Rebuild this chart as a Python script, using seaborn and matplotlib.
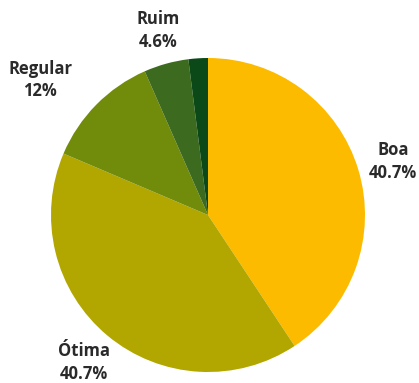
import matplotlib
matplotlib.use("Agg")
import matplotlib.pyplot as plt
import seaborn as sns

# Avaliação: categorias e percentuais
categorias = ["Boa", "Ótima", "Regular", "Ruim", "Péssima"]
percentuais = [40.7, 40.7, 12.0, 4.6, 2.0]
rotulos = ["40.7%", "40.7%", "12%", "4.6%", ""]
cores = ["#FDBB00", "#B2A700", "#718B0B", "#3C6A1E", "#0B4A18"]

# posição dos rótulos (coordenadas do eixo da pizza)
pos_rotulos = {
    "Boa": (1.18, 0.34),
    "Ótima": (-0.79, -0.94),
    "Regular": (-1.07, 0.86),
    "Ruim": (-0.32, 1.175),
}

sns.set_theme(style="white")
plt.rcParams["font.family"] = ["Open Sans", "DejaVu Sans"]

fig = plt.figure(figsize=(4.19, 3.83), dpi=100)
cx, cy, r = 208 / 419, 1 - 215 / 383, 157
w, h = r / 419, r / 383
ax = fig.add_axes([cx - w, cy - h, 2 * w, 2 * h])

ax.pie(percentuais, colors=cores, startangle=90, counterclock=False,
       radius=1.0, wedgeprops=dict(linewidth=0))
ax.set_xlim(-1, 1)
ax.set_ylim(-1, 1)
ax.set_aspect("equal")
ax.axis("off")

for cat, rot in zip(categorias, rotulos):
    if not rot:
        continue
    x, y = pos_rotulos[cat]
    ax.text(x, y, f"{cat}\n{rot}", ha="center", va="center",
            fontsize=12, fontweight="bold", color="#2a2a2a",
            linespacing=1.35, clip_on=False)

fig.savefig("out.png", dpi=100, facecolor="white")
